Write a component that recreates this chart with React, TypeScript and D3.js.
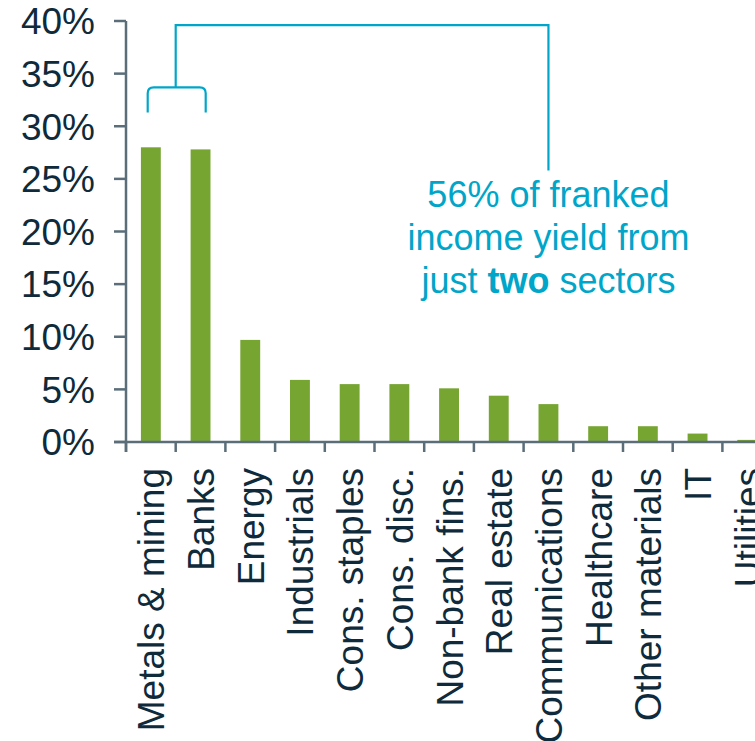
import React, { useRef, useEffect } from 'react';
import * as d3 from 'd3';

// sectors and their share of franked income yield (%)
const sectors = [
  'Metals & mining',
  'Banks',
  'Energy',
  'Industrials',
  'Cons. staples',
  'Cons. disc.',
  'Non-bank fins.',
  'Real estate',
  'Communications',
  'Healthcare',
  'Other materials',
  'IT',
  'Utilities',
];
const shares = [28.0, 27.8, 9.7, 5.9, 5.5, 5.5, 5.1, 4.4, 3.6, 1.5, 1.5, 0.8, 0.2];
const yTicks = [0, 5, 10, 15, 20, 25, 30, 35, 40];
const noteLines = ['56% of franked', 'income yield from'];

const App = () => {
  const svgRef = useRef<SVGSVGElement>(null);
  const width = 755;
  const height = 741;

  useEffect(() => {
    const svg = d3.select(svgRef.current);
    svg.selectAll('*').remove();

    const font = '"Liberation Sans", Arial, sans-serif';
    const axisColor = '#5a6d79';
    const textColor = '#0e2a3b';
    const barColor = '#76a532';
    const noteColor = '#00a6c9';

    const left = 126;
    const step = 49.7;

    const x = d3
      .scaleBand()
      .domain(sectors)
      .range([left, left + sectors.length * step])
      .paddingInner(0.6)
      .paddingOuter(0.3);

    const y = d3.scaleLinear().domain([0, 40]).range([442, 21]);

    // bars
    svg
      .append('g')
      .selectAll('rect')
      .data(sectors)
      .enter()
      .append('rect')
      .attr('x', d => x(d)!)
      .attr('y', (d, i) => y(shares[i]))
      .attr('width', x.bandwidth())
      .attr('height', (d, i) => y(0) - y(shares[i]))
      .attr('fill', barColor);

    // y axis
    const yAxis = svg.append('g');
    yAxis
      .append('line')
      .attr('x1', left)
      .attr('x2', left)
      .attr('y1', y(40))
      .attr('y2', y(0) + 10)
      .attr('stroke', axisColor)
      .attr('stroke-width', 2.5);
    yAxis
      .selectAll('.tick')
      .data(yTicks)
      .enter()
      .append('line')
      .attr('x1', left - 12)
      .attr('x2', left)
      .attr('y1', d => y(d))
      .attr('y2', d => y(d))
      .attr('stroke', axisColor)
      .attr('stroke-width', 2.5);
    yAxis
      .selectAll('text')
      .data(yTicks)
      .enter()
      .append('text')
      .attr('x', 95)
      .attr('y', d => y(d))
      .attr('dy', '0.36em')
      .attr('text-anchor', 'end')
      .attr('font-family', font)
      .attr('font-size', 37)
      .attr('fill', textColor)
      .text(d => `${d}%`);

    // x axis
    const xAxis = svg.append('g');
    xAxis
      .append('line')
      .attr('x1', left - 12)
      .attr('x2', left + sectors.length * step)
      .attr('y1', y(0))
      .attr('y2', y(0))
      .attr('stroke', axisColor)
      .attr('stroke-width', 2.5);
    xAxis
      .selectAll('.tick')
      .data(d3.range(sectors.length + 1))
      .enter()
      .append('line')
      .attr('x1', i => left + i * x.step())
      .attr('x2', i => left + i * x.step())
      .attr('y1', y(0))
      .attr('y2', y(0) + 10)
      .attr('stroke', axisColor)
      .attr('stroke-width', 2.5);
    xAxis
      .selectAll('text')
      .data(sectors)
      .enter()
      .append('text')
      .attr('transform', d => `translate(${x(d)! + x.bandwidth() / 2 + 13.5},468) rotate(-90)`)
      .attr('text-anchor', 'end')
      .attr('font-family', font)
      .attr('font-size', 37)
      .attr('fill', textColor)
      .text(d => d);

    // annotation bracket
    const mid = left + x.step();
    const noteX = x('Communications')! + x.bandwidth() / 2;
    const top = y(39.6);
    const braceTop = y(33.7);
    const braceBottom = y(31.3);
    const r = 6;
    const note = svg
      .append('g')
      .attr('fill', 'none')
      .attr('stroke', noteColor)
      .attr('stroke-width', 2.2);
    note
      .append('path')
      .attr(
        'd',
        `M${mid - 28},${braceBottom} L${mid - 28},${braceTop + r} Q${mid - 28},${braceTop} ${mid - 28 + r},${braceTop} ` +
          `L${mid + 30 - r},${braceTop} Q${mid + 30},${braceTop} ${mid + 30},${braceTop + r} L${mid + 30},${braceBottom}`
      );
    note
      .append('path')
      .attr('d', `M${mid},${braceTop} L${mid},${top} L${noteX},${top} L${noteX},${y(25.8)}`);

    const noteText = svg
      .append('text')
      .attr('text-anchor', 'middle')
      .attr('font-family', font)
      .attr('font-size', 36)
      .attr('fill', noteColor);
    noteLines.forEach((line, i) => {
      noteText
        .append('tspan')
        .attr('x', noteX)
        .attr('y', 207 + i * 43)
        .text(line);
    });
    const last = noteText.append('tspan').attr('x', noteX).attr('y', 207 + 2 * 43);
    last.append('tspan').text('just ');
    last.append('tspan').attr('font-weight', 'bold').text('two');
    last.append('tspan').text(' sectors');
  }, []);

  return (
    <svg
      ref={svgRef}
      width={width}
      height={height}
      style={{ position: 'absolute', left: 0, top: 0, background: '#fff' }}
    />
  );
};

export default App;
